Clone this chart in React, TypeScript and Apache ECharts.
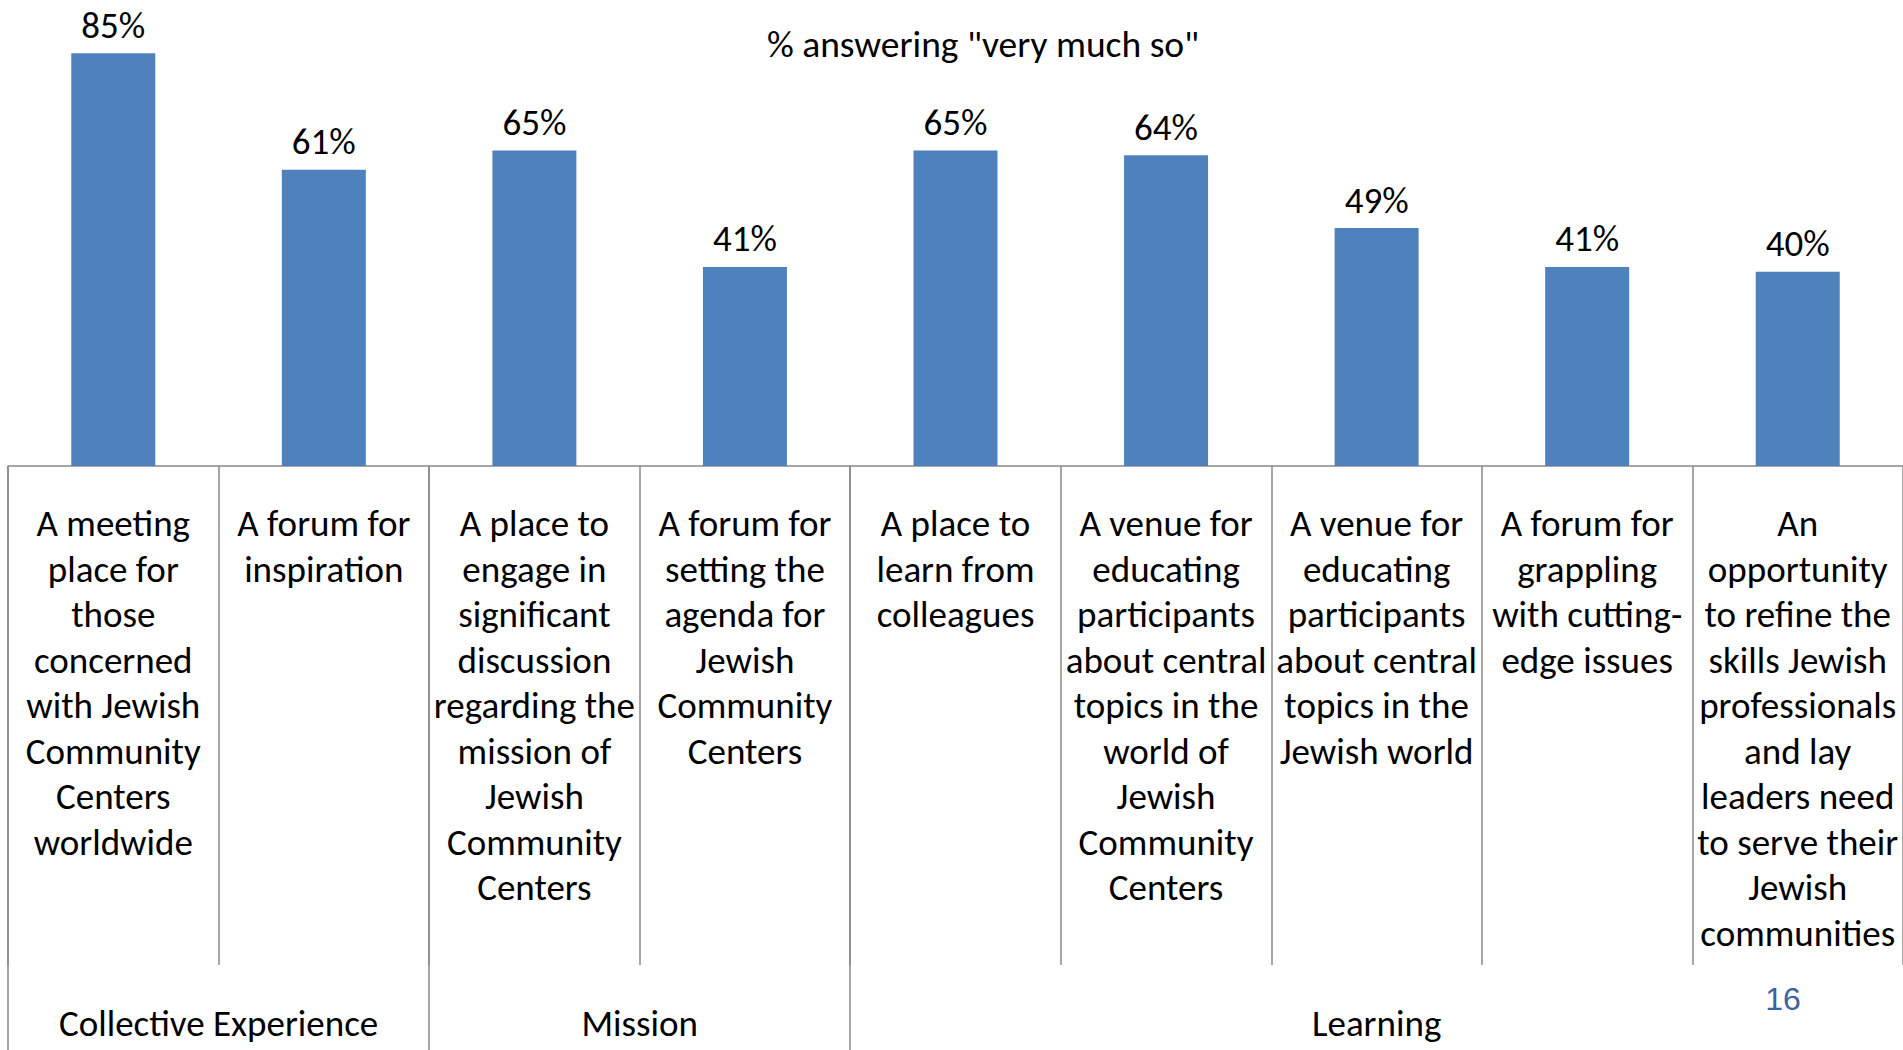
import React, { useEffect, useRef } from "react";
import * as echarts from "echarts";

const categories: string[] = [
  "A meeting\nplace for\nthose\nconcerned\nwith Jewish\nCommunity\nCenters\nworldwide",
  "A forum for\ninspiration",
  "A place to\nengage in\nsignificant\ndiscussion\nregarding the\nmission of\nJewish\nCommunity\nCenters",
  "A forum for\nsetting the\nagenda for\nJewish\nCommunity\nCenters",
  "A place to\nlearn from\ncolleagues",
  "A venue for\neducating\nparticipants\nabout central\ntopics in the\nworld of\nJewish\nCommunity\nCenters",
  "A venue for\neducating\nparticipants\nabout central\ntopics in the\nJewish world",
  "A forum for\ngrappling\nwith cutting-\nedge issues",
  "An\nopportunity\nto refine the\nskills Jewish\nprofessionals\nand lay\nleaders need\nto serve their\nJewish\ncommunities",
];
const values: number[] = [85, 61, 65, 41, 65, 64, 49, 41, 40];
const groupNames: string[] = ["Collective Experience", "Mission", "Learning"];
const groupSizes: number[] = [2, 2, 5];
const titleText = '% answering "very much so"';
const pageNumber = "16";

const FONT = "Carlito, Lato, sans-serif";

export default function App() {
  const ref = useRef<HTMLDivElement>(null);
  useEffect(() => {
    if (!ref.current) return;
    const chart = echarts.init(ref.current, undefined, { renderer: "svg" });

    const boundaries: number[] = [];
    const centers: number[] = [];
    let acc = 0;
    groupSizes.forEach((s) => {
      boundaries.push(acc);
      centers.push(acc + s / 2);
      acc += s;
    });

    chart.setOption({
      animation: false,
      backgroundColor: "#ffffff",
      grid: { left: 8, right: 0, top: 29, bottom: 584, containLabel: false },
      graphic: [
        {
          type: "text",
          x: 983,
          y: 44,
          style: {
            text: titleText,
            fontSize: 37.5,
            fontFamily: FONT,
            fill: "#000",
            textAlign: "center",
            textVerticalAlign: "middle",
          },
        },
        {
          type: "text",
          x: 1783,
          y: 999,
          style: {
            text: pageNumber,
            fontSize: 32,
            fontFamily: "Liberation Sans, Arial, sans-serif",
            fill: "#3A63A0",
            textAlign: "center",
            textVerticalAlign: "middle",
          },
        },
      ],
      xAxis: [
        {
          type: "category",
          data: categories,
          position: "bottom",
          axisLine: { show: true, lineStyle: { color: "#888888", width: 1.5 } },
          axisTick: { show: true, length: 499, lineStyle: { color: "#888888", width: 1.5 } },
          axisLabel: {
            interval: 0,
            margin: 35,
            fontSize: 37,
            lineHeight: 45.5,
            fontFamily: FONT,
            color: "#000",
            align: "center",
            verticalAlign: "top",
            hideOverlap: false,
          },
        },
        {
          type: "value",
          min: 0,
          max: categories.length,
          position: "bottom",
          axisLine: { show: false },
          splitLine: { show: false },
          axisTick: {
            show: true,
            length: 584,
            customValues: boundaries,
            lineStyle: { color: "#888888", width: 1.5 },
          },
          axisLabel: {
            show: true,
            customValues: centers,
            margin: 535,
            fontSize: 37,
            lineHeight: 44,
            fontFamily: FONT,
            color: "#000",
            verticalAlign: "top",
            formatter: (v: number) => {
              const i = centers.indexOf(v);
              return i >= 0 ? groupNames[i] : "";
            },
          },
        },
      ],
      yAxis: { type: "value", min: 0, max: 90, show: false },
      series: [
        {
          type: "bar",
          data: values,
          barWidth: 84,
          itemStyle: { color: "#4F81BD" },
          label: {
            show: true,
            position: "top",
            distance: 13,
            formatter: "{c}%",
            fontSize: 37,
            lineHeight: 30,
            fontFamily: FONT,
            color: "#000",
          },
        },
      ],
    });
    return () => chart.dispose();
  }, []);
  return (
    <div
      ref={ref}
      style={{ position: "absolute", left: 0, top: 0, width: 1903, height: 1050 }}
    />
  );
}
